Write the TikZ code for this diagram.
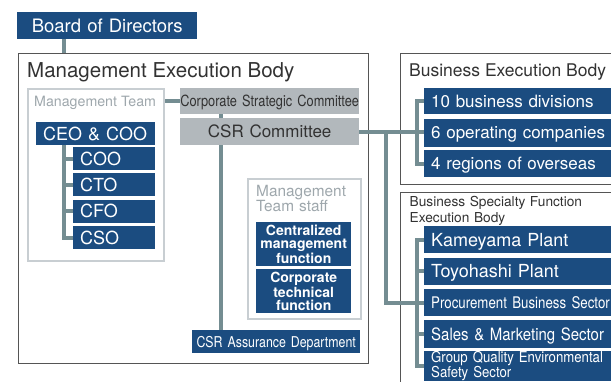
\documentclass[tikz,border=0pt]{standalone}
\usepackage{fontspec}
\setmainfont{TeX Gyre Heros}
\newfontfamily\condfont[FakeStretch=0.83]{TeX Gyre Heros}
\newfontfamily\semicondfont[FakeStretch=0.88]{TeX Gyre Heros}
\usepackage{tikz}

\definecolor{corpblue}{RGB}{27,76,128}
\definecolor{linkgray}{RGB}{116,141,146}
\definecolor{boxgray}{RGB}{178,184,188}
\definecolor{framegray}{RGB}{200,206,210}
\definecolor{captiongray}{RGB}{158,167,172}
\definecolor{framedark}{RGB}{85,85,85}
\definecolor{textdark}{RGB}{50,50,50}

\newcommand{\fsz}[2]{\fontsize{#1}{#2}\selectfont}

\begin{document}
\begin{tikzpicture}[x = 1pt, y = -1pt,
    frame/.style = {draw = framedark, line width = 1.2pt, anchor = north west, inner sep = 0pt},
    lightframe/.style = {draw = framegray, line width = 2pt, anchor = north west, inner sep = 0pt},
    bluebox/.style = {fill = corpblue, text = white, anchor = north west, inner xsep = 7pt, inner ysep = 0pt, align = left},
    graybox/.style = {fill = boxgray, text = textdark, anchor = north west, inner sep = 0pt, align = center},
    capline/.style = {text height = #1, text depth = 0pt},
    caption/.style = {anchor = base west, inner sep = 0pt},
    link/.style = {draw = linkgray, line width = 4pt}]
  \useasboundingbox (0, 0) rectangle (611, 382);
  \clip (0, 0) rectangle (611, 382);

  % frames
  \node [frame, minimum width = 350pt, minimum height = 310pt] (meb) at (18, 53){};
  \node [frame, minimum width = 230pt, minimum height = 131pt] (bexec) at (400, 53){};
  \node [frame, minimum width = 230pt, minimum height = 220pt] (bspec) at (400, 192){};
  \node [lightframe, minimum width = 136pt, minimum height = 172pt] (mteam) at (27, 88){};
  \node [lightframe, minimum width = 113pt, minimum height = 140pt] (mstaff) at (247, 178){};

  % titles
  \node [caption, font = \fsz{20.5}{20.5}, text = textdark] (mebtitle) at (27, 77.5){Management Execution Body};
  \node [caption, font = \fsz{14.2}{14.2}, text = captiongray] (mteamtitle) at (34, 107){Management Team};
  \node [caption, font = \fsz{17.5}{17.5}, text = textdark] (bexectitle) at (409, 76.7){Business Execution Body};
  \node [caption, font = \fsz{15.4}{15}, text = captiongray, text width = 100pt, align = left] (mstafftitle) at (256, 197){Management\\Team staff};
  \node [caption, font = \fsz{13.7}{15.7}, text = textdark, text width = 200pt, align = left] (bspectitle) at (409.5, 207){Business Specialty Function\\Execution Body};

  % management side
  \node [bluebox, align = center, text width = 166pt, minimum height = 27pt, font = \fsz{18.5}{18.5}, capline = 13.3pt] (board) at (17, 12){Board of Directors};
  \node [bluebox, text width = 105pt, minimum height = 23pt, font = \fsz{18}{18}, capline = 13pt] (ceo) at (36, 122){CEO \& COO};
  \node [bluebox, text width = 68pt, minimum height = 23pt, font = \fsz{18}{18}, capline = 13pt] (coo) at (73, 147){COO};
  \node [bluebox, text width = 68pt, minimum height = 23pt, font = \fsz{18}{18}, capline = 13pt] (cto) at (73, 173){CTO};
  \node [bluebox, text width = 68pt, minimum height = 23pt, font = \fsz{18}{18}, capline = 13pt] (cfo) at (73, 199.5){CFO};
  \node [bluebox, text width = 68pt, minimum height = 23pt, font = \fsz{18}{18}, capline = 13pt] (cso) at (73, 226){CSO};
  \node [graybox, text width = 179pt, minimum height = 26pt, font = \condfont\fsz{15.4}{15.4}, capline = 11.1pt] (csc) at (180, 88){Corporate Strategic Committee};
  \node [graybox, text width = 179pt, minimum height = 27pt, font = \fsz{17}{17}, capline = 12.2pt] (csr) at (180, 118){CSR Committee};
  \node [bluebox, align = center, inner xsep = 1pt, text width = 93pt, minimum height = 44pt, font = \bfseries\fsz{14}{13}] (central) at (256, 222){Centralized\\management\\function};
  \node [bluebox, align = center, inner xsep = 1pt, text width = 93pt, minimum height = 44pt, font = \bfseries\fsz{14}{13}] (corptech) at (256, 269){Corporate\\technical\\function};
  \node [bluebox, align = center, inner xsep = 3pt, text width = 162pt, minimum height = 23pt, font = \condfont\fsz{14.9}{14.9}, capline = 10.7pt] (assur) at (192, 330){CSR Assurance Department};

  % business side
  \node [bluebox, text width = 190pt, minimum height = 26.5pt, font = \fsz{17}{17}, capline = 12.2pt] (div) at (424, 87.5){10 business divisions};
  \node [bluebox, text width = 190pt, minimum height = 28pt, font = \fsz{17}{17}, capline = 12.2pt] (opco) at (424, 118.5){6 operating companies};
  \node [bluebox, text width = 190pt, minimum height = 27pt, font = \fsz{17}{17}, capline = 12.2pt] (reg) at (424, 150){4 regions of overseas};
  \node [bluebox, text width = 190pt, minimum height = 27pt, font = \fsz{18}{18}, capline = 13pt] (kame) at (424, 226){Kameyama Plant};
  \node [bluebox, text width = 190pt, minimum height = 27.5pt, font = \fsz{18}{18}, capline = 13pt] (toyo) at (424, 257.5){Toyohashi Plant};
  \node [bluebox, text width = 190pt, minimum height = 27pt, font = \condfont\fsz{16}{16}, capline = 11.5pt] (proc) at (424, 289.3){Procurement Business Sector};
  \node [bluebox, text width = 190pt, minimum height = 27.5pt, font = \semicondfont\fsz{17}{17}, capline = 12.2pt] (sales) at (424, 320){Sales \& Marketing Sector};
  \node [bluebox, text width = 190pt, minimum height = 30pt, font = \semicondfont\fsz{15}{12.4}] (gqe) at (424, 351){Group Quality Environmental\\Safety Sector};

  % connectors
  \coordinate (boardlink) at ([xshift = 47pt]board.south west);
  \draw [link] (boardlink) -- (boardlink |- meb.north);
  \coordinate (ceotrunk) at ([xshift = 28pt]ceo.south west);
  \draw [link] (ceotrunk) |- (cso.west);
  \foreach \n in {coo, cto, cfo}
    \draw [link] (ceotrunk |- \n.west) -- (\n.west);
  \draw [link] (mteam.east |- csc.west) -- (csc.west);
  \coordinate (csrtrunk) at ([xshift = 40.5pt]csr.south west);
  \draw [link] (csrtrunk |- csc.south) -- (csrtrunk |- csr.north);
  \draw [link] (csrtrunk) -- (csrtrunk |- assur.north);
  \draw [link] (csr.east) -- (opco.west |- csr.east);
  \draw [link] (div.west) -- ++(-7, 0) |- (reg.west);
  \coordinate (bspecsplit) at ([xshift = 27pt]csr.east);
  \draw [link] (bspecsplit) |- (proc.west);
  \draw [link] (kame.west) -- ++(-7, 0) |- (gqe.west);
  \foreach \n in {toyo, sales}
    \draw [link] ([xshift = -7pt]\n.west) -- (\n.west);
\end{tikzpicture}
\end{document}
